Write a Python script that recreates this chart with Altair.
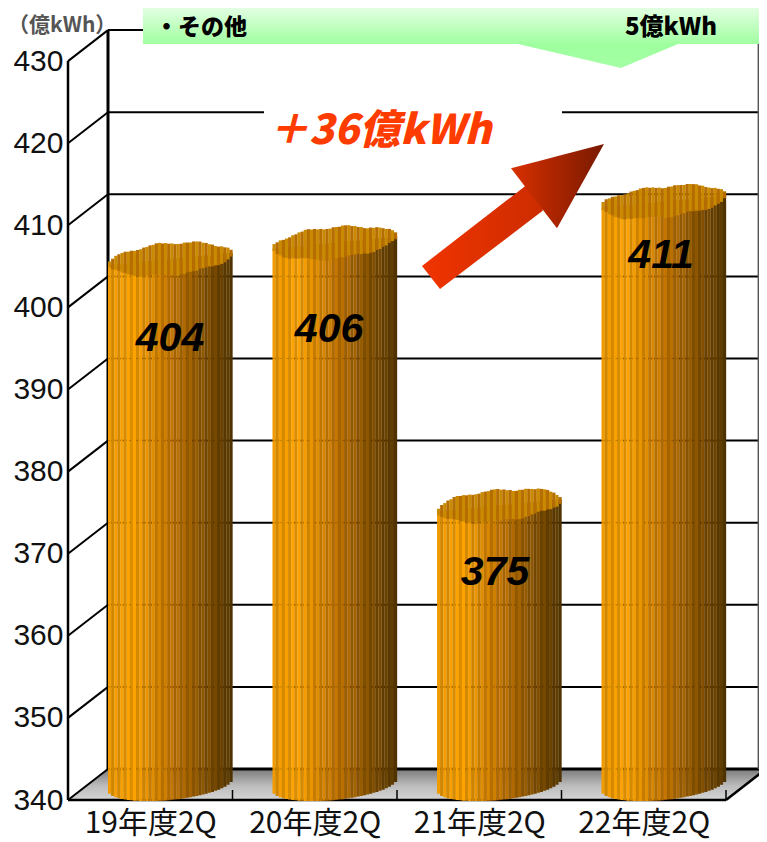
import math
import altair as alt
import pandas as pd

categories = ["19年度2Q", "20年度2Q", "21年度2Q", "22年度2Q"]
values = [404, 406, 374, 411]          # drawn height
value_labels = ["404", "406", "375", "411"]
y_ticks = [340, 350, 360, 370, 380, 390, 400, 410, 420, 430]
label_drop = [7.85, 8.77, 6.35, 4.75]  # value units below the bar's front top
label_x = [0.62, 0.587, 0.596, 0.605]  # position inside the category band
rim_wobble = [0, 0, 1, 1, 1, 1, 0, 0, -1, -1, -1, 0, 0, 1, 1, 2, 2, 1, 1, 0,
              0, -1, -1, -1, 0, 0, 0, 1, 1, 1, 0, 0, -1, -1, -2, -2, -1, -1, 0, 0]

PX_X = 164.5      # pixels per category band
PX_Y = 8.21       # pixels per value unit
LEFT, BASE = 68, 800
W, H = 691, 792
DX, DY = 40 / PX_X, 31 / PX_Y   # depth offset of the back wall
X_MAX = W / PX_X
Y_MAX = 340 + H / PX_Y


def ux(p):
    return (p - LEFT) / PX_X


def uy(p):
    return 340 + (BASE - p) / PX_Y


xs = alt.Scale(domain=[0, X_MAX], nice=False, zero=False)
ys = alt.Scale(domain=[340, Y_MAX], nice=False, zero=False)
label_expr = "[" + ",".join(f"'{c}'" for c in categories) + "][floor(datum.value)]"
X_AXIS = alt.Axis(
    values=[0.5, 1.5, 2.5, 3.5], labelExpr=label_expr, domain=False, ticks=False,
    grid=False, labelFont="Noto Sans CJK JP", labelFontSize=30, labelColor="#111111",
    labelPadding=8, labelAngle=0, labelAlign="center", labelOverlap=False, title=None)
Y_AXIS = alt.Axis(
    values=y_ticks, domain=False, ticks=False, grid=False,
    labelFont="Liberation Sans", labelFontSize=30, labelColor="#111111",
    labelPadding=5, format="d", labelOverlap=False, title=None)
X = lambda f="x": alt.X(f"{f}:Q", scale=xs, axis=X_AXIS, title=None)
Y = lambda f="y": alt.Y(f"{f}:Q", scale=ys, axis=Y_AXIS, title=None)


def lines(rows, width=2.0, color="#000000", **kw):
    df = pd.DataFrame(rows, columns=["x", "y", "x2", "y2"])
    return alt.Chart(df).mark_rule(strokeWidth=width, color=color, **kw).encode(
        x=X(), y=Y(), x2="x2:Q", y2="y2:Q")


def area(points, stops, horizontal=False, **kw):
    df = pd.DataFrame(points, columns=["x", "y", "y2"])
    grad = alt.Gradient(
        gradient="linear",
        x1=0, y1=0,
        x2=1 if horizontal else 0,
        y2=0 if horizontal else 1,
        stops=[alt.GradientStop(offset=o, color=c) for o, c in stops],
    )
    return alt.Chart(df).mark_area(color=grad, line=False, **kw).encode(
        x=X(), y=Y(), y2="y2:Q")


def mix(a, b, t):
    pa = [int(a[i:i + 2], 16) for i in (1, 3, 5)]
    pb = [int(b[i:i + 2], 16) for i in (1, 3, 5)]
    return "#%02x%02x%02x" % tuple(round(p + (q - p) * t) for p, q in zip(pa, pb))


def body_color(u, odd):
    ramp = [(-1.0, "#f09a00"), (-0.6, "#ffa500"), (0.0, "#c87800"),
            (0.55, "#8a5400"), (1.0, "#583800")]
    for (u0, c0), (u1, c1) in zip(ramp, ramp[1:]):
        if u <= u1:
            c = mix(c0, c1, (u - u0) / (u1 - u0))
            break
    return mix(c, "#000000", 0.14) if odd else c


stripes = []
B_PX, TILT = 15.5, 6
N = 40
for i, v in enumerate(values):
    left = i + DX
    right = i + 1
    cx = (left + right) / 2
    sw = (right - left) / N
    for k in range(N):
        x0 = left + k * sw
        x1 = x0 + sw + 0.001
        u = ((x0 + sw / 2) - cx) / ((right - left) / 2)
        s = math.sqrt(max(0, 1 - u * u))
        tilt = TILT * u / PX_Y
        half = B_PX * s / PX_Y
        top_c = v + DY / 2 + tilt
        bot_c = 340 + DY / 2 + tilt
        odd = k % 2 == 1
        wob_up = rim_wobble[(k + 5 * i) % len(rim_wobble)] / PX_Y
        wob_dn = rim_wobble[(k + 13 + 5 * i) % len(rim_wobble)] / PX_Y
        stripes.append(dict(x=x0, x2=x1, y=top_c, y2=bot_c - half,
                            c=body_color(u, odd), o=0))
        stripes.append(dict(x=x0, x2=x1, y=top_c + half + wob_up, y2=top_c - half + wob_dn,
                            c="#b56c00" if odd else "#c98a00", o=1))
stripe_df = pd.DataFrame(stripes)
bars = alt.Chart(stripe_df).mark_rect(strokeWidth=0).encode(
    x=X(), y=Y(), x2="x2:Q", y2="y2:Q",
    color=alt.Color("c:N", scale=None), order="o:Q")

# floor
floor = area(
    [(0, 340, 340), (DX, 340 + DY, 340), (4, 340 + DY, 340), (4 + DX, 340 + DY, 340 + DY)],
    [(0, "#7a7a7a"), (0.55, "#bdbdbd"), (1, "#d4d4d4")],
)

grid = lines([(DX, v + DY, 4 + DX, v + DY) for v in y_ticks[1:]], 2.0)
floor_back = lines([(DX, 340 + DY, 4 + DX, 340 + DY)], 3.0)
diag = lines([(0, v, DX, v + DY) for v in y_ticks], 2.0)
walls = lines([(0, 340, 0, 430)], 2.5)
walls2 = lines([(DX, 340 + DY, DX, 430 + DY)], 3.0)
right_edge = lines([(X_MAX - 0.004, 340 + DY, X_MAX - 0.004, 430 + DY)], 1.5, "#555555")
floor_front = lines([(0, 340, 4, 340), (4, 340, 4 + DX, 340 + DY)], 2.5)
ticks = lines([(k, 340, k, 340 + 10 / PX_Y) for k in (1, 2, 3, 4)], 1.5)

# faint marks of the grid through the bars
through = alt.Chart(pd.DataFrame(
    [dict(x=i + DX, x2=i + 1, y=v + DY) for i in range(4) for v in y_ticks[:-1]
     if v + DY < values[i]])).mark_rule(strokeWidth=1, color="#000000", opacity=0.22,
                                        strokeDash=[2, 5]).encode(
    x=X(), x2="x2:Q", y=Y())

# white box that hides the grid behind the call-out
white = alt.Chart(pd.DataFrame([dict(x=ux(264), x2=ux(562), y=uy(100), y2=uy(125))])).mark_rect(
    color="#ffffff", strokeWidth=0).encode(x=X(), x2="x2:Q", y=Y(), y2="y2:Q")

# green call-out
top = Y_MAX
green = area(
    [(ux(143), uy(44), top), (ux(518), uy(44), top), (ux(621), uy(68), top),
     (ux(678), uy(44), top), (ux(770), uy(44), top)],
    [(0, "#e2ffe2"), (0.62, "#9eff9e"), (1, "#a4ffa4")],
)

# arrow
arrow_shaft = area(
    [(ux(422), uy(266), uy(266)),
     (ux(440), uy(252), uy(289)),
     (ux(524), uy(187), uy(225)),
     (ux(542.7), uy(172.5), uy(210.7))],
    [(0, "#f03400"), (1, "#cc2c00")], horizontal=True,
)
arrow_head = area(
    [(ux(511), uy(168.3), uy(168.3)),
     (ux(543), uy(160), uy(210)),
     (ux(557), uy(156.3), uy(228.3)),
     (ux(604), uy(144), uy(144))],
    [(0, "#d83000"), (0.5, "#a82400"), (1, "#781a00")], horizontal=True,
)


def text(label, px, py, size, color="#000000", weight="normal", style="normal",
         font="Noto Sans CJK JP", align="left"):
    df = pd.DataFrame([dict(x=ux(px), y=uy(py), t=label)])
    return alt.Chart(df).mark_text(
        fontSize=size, color=color, fontWeight=weight, fontStyle=style, font=font,
        align=align, baseline="middle").encode(x=X(), y=Y(), text="t:N")


label_df = pd.DataFrame([
    dict(x=i + label_x[i], y=v - label_drop[i], t=value_labels[i])
    for i, v in enumerate(values)
])
bar_labels = alt.Chart(label_df).mark_text(
    fontSize=41, fontWeight="bold", fontStyle="italic", font="Liberation Sans",
    color="#000000", baseline="middle", align="center").encode(x=X(), y=Y(), text="t:N")

chart = alt.layer(
    floor, grid, floor_back, diag, walls, walls2, right_edge, floor_front, ticks,
    bars, through, white, green,
    text("・その他", 155, 28, 23, weight=900),
    text("5億kWh", 625, 28, 24, weight=900),
    text("（億kWh）", 8, 26, 21, color="#555555", weight="bold"),
    text("＋36億kWh", 268, 132, 41, color="#ff3c00", weight=900, style="italic"),
    arrow_shaft, arrow_head, bar_labels,
).properties(
    width=W, height=H,
    padding={"left": 60, "top": 0, "right": 0, "bottom": 42},
    autosize=alt.AutoSizeParams(type="none"),
    background="#ffffff",
).configure_view(stroke=None)

chart.save("out.html", embed_options={"renderer": "svg", "actions": False})
